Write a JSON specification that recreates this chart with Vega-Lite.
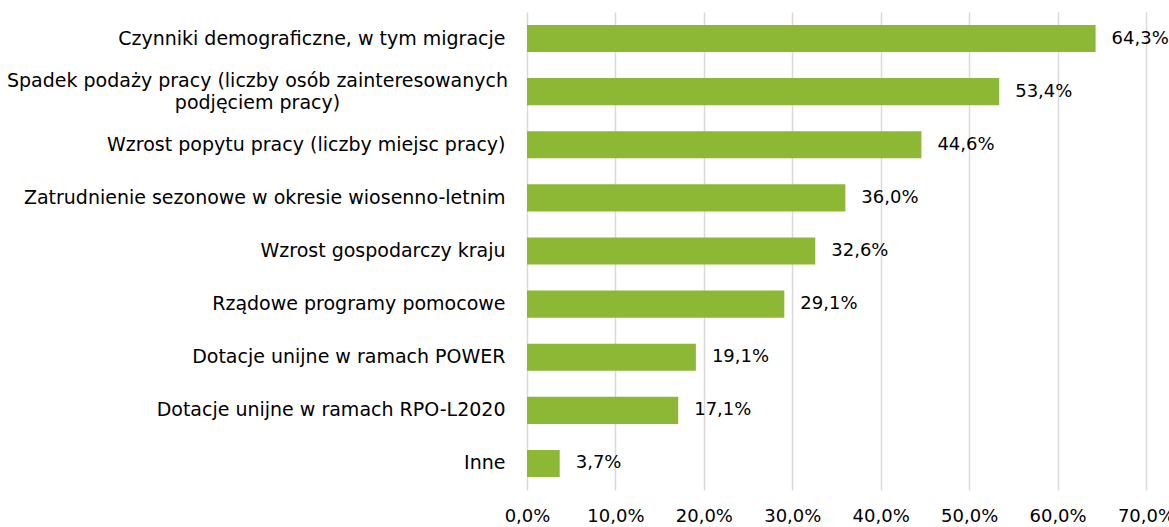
{
  "$schema": "https://vega.github.io/schema/vega-lite/v6.json",
  "width": 619,
  "height": 478,
  "autosize": {"type": "none"},
  "padding": {"left": 527, "top": 12, "right": 23, "bottom": 37},
  "background": "#ffffff",
  "config": {
    "view": {"stroke": null},
    "font": "DejaVu Sans",
    "locale": {"number": {"decimal": ",", "thousands": " ", "grouping": [3], "currency": ["", " zł"]}}
  },
  "data": {
    "values": [
      {"kategoria": "Czynniki demograficzne, w tym migracje", "v": 0.643},
      {"kategoria": "Spadek podaży pracy (liczby osób zainteresowanych|podjęciem pracy)", "v": 0.534},
      {"kategoria": "Wzrost popytu pracy (liczby miejsc pracy)", "v": 0.446},
      {"kategoria": "Zatrudnienie sezonowe w okresie wiosenno-letnim", "v": 0.360},
      {"kategoria": "Wzrost gospodarczy kraju", "v": 0.326},
      {"kategoria": "Rządowe programy pomocowe", "v": 0.291},
      {"kategoria": "Dotacje unijne w ramach POWER", "v": 0.191},
      {"kategoria": "Dotacje unijne w ramach RPO-L2020", "v": 0.171},
      {"kategoria": "Inne", "v": 0.037}
    ]
  },
  "encoding": {
    "y": {
      "field": "kategoria",
      "type": "nominal",
      "sort": null,
      "title": null,
      "scale": {"paddingInner": 0.49, "paddingOuter": 0.245},
      "axis": {
        "domain": false,
        "ticks": false,
        "tickSize": 0,
        "labelFontSize": 19,
        "labelColor": "#000000",
        "labelLimit": 600,
        "labelLineHeight": 22,
        "labelExpr": "split(datum.label, '|')",
        "labelAlign": {"condition": {"test": "indexof(datum.value, '|') >= 0", "value": "center"}, "value": "right"},
        "labelPadding": {"condition": {"test": "indexof(datum.value, '|') >= 0", "value": 270}, "value": 22},
        "labelOffset": {"condition": {"test": "indexof(datum.value, '|') >= 0", "value": -11}, "value": 0}
      }
    },
    "x": {
      "field": "v",
      "type": "quantitative",
      "title": null,
      "scale": {"domain": [0, 0.7], "nice": false},
      "axis": {
        "values": [0, 0.1, 0.2, 0.3, 0.4, 0.5, 0.6, 0.7],
        "format": ".1%",
        "domain": false,
        "ticks": false,
        "tickSize": 0,
        "labelPadding": 17,
        "labelFontSize": 18,
        "labelColor": "#000000",
        "labelFlush": false,
        "grid": true,
        "gridColor": "#D9D9D9",
        "gridWidth": 1.5
      }
    }
  },
  "layer": [
    {"mark": {"type": "bar", "color": "#8DB836"}},
    {
      "mark": {"type": "text", "align": "left", "baseline": "middle", "dx": 16, "fontSize": 18, "color": "#000000"},
      "encoding": {"text": {"field": "v", "type": "quantitative", "format": ".1%"}}
    }
  ]
}
